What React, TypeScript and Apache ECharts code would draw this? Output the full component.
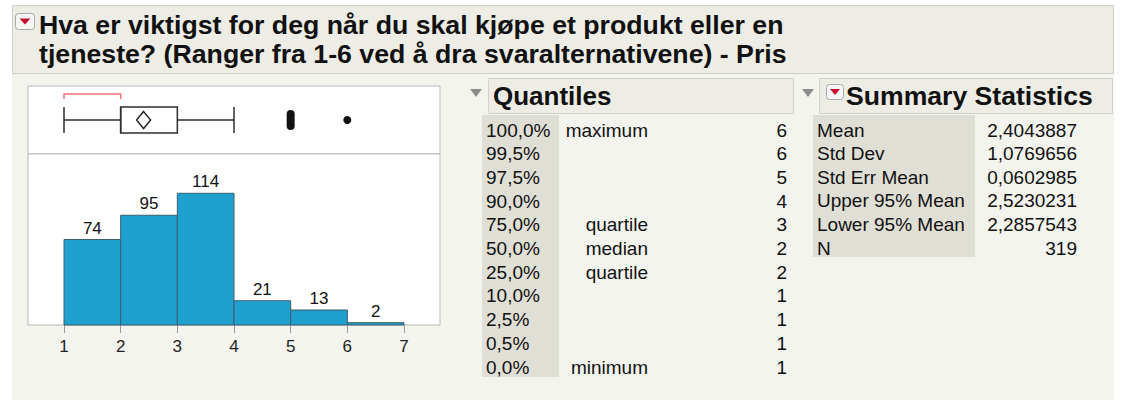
import React, { useEffect, useRef } from "react";
import * as echarts from "echarts";

// ---- data ----
const titleLines = [
  "Hva er viktigst for deg når du skal kjøpe et produkt eller en",
  "tjeneste? (Ranger fra 1-6 ved å dra svaralternativene) - Pris",
];
const binStarts = [1, 2, 3, 4, 5, 6];
const binCounts = [74, 95, 114, 21, 13, 2];
const axisTicks = [1, 2, 3, 4, 5, 6, 7];
const boxStats = [1, 2, 2, 3, 4]; // min(whisker), Q1, median, Q3, max(whisker)
const shortestHalf = [1, 2];
const meanValue = 2.4043887;
const outlierValues = [5, 6];

const quantileLevels = ["100,0%", "99,5%", "97,5%", "90,0%", "75,0%", "50,0%", "25,0%", "10,0%", "2,5%", "0,5%", "0,0%"];
const quantileNames = ["maximum", "", "", "", "quartile", "median", "quartile", "", "", "", "minimum"];
const quantileValues = ["6", "6", "5", "4", "3", "2", "2", "1", "1", "1", "1"];

const summaryLabels = ["Mean", "Std Dev", "Std Err Mean", "Upper 95% Mean", "Lower 95% Mean", "N"];
const summaryValues = ["2,4043887", "1,0769656", "0,0602985", "2,5230231", "2,2857543", "319"];

const FONT = "'Liberation Sans', Arial, Helvetica, sans-serif";

export default function App() {
  const ref = useRef<HTMLDivElement>(null);

  useEffect(() => {
    document.body.style.margin = "0";
    const chart = echarts.init(ref.current!, null, { renderer: "svg" });

    const pxPerUnit = (404 - 64) / 6;
    const XMIN = 1 - 36 / pxPerUnit;
    const XMAX = 7 + 36 / pxPerUnit;

    const graphics: any[] = [];
    // panel backgrounds
    graphics.push({ type: "rect", z: -10, shape: { x: 12, y: 5, width: 1102, height: 395 }, style: { fill: "#f4f4ef" } });
    graphics.push({ type: "rect", z: -9, shape: { x: 12.5, y: 5.5, width: 1101, height: 68 }, style: { fill: "#edece5", stroke: "#cfcfc7", lineWidth: 1 } });
    // title icon
    graphics.push({ type: "rect", z: 5, shape: { x: 15.5, y: 13.5, width: 19, height: 16, r: 3 }, style: { fill: "#f6f6f4", stroke: "#a8a8a8", lineWidth: 1 } });
    graphics.push({ type: "polygon", z: 6, shape: { points: [[19.5, 18.5], [30.5, 18.5], [25, 24.5]] }, style: { fill: "#c8102e" } });
    titleLines.forEach((t, i) => {
      graphics.push({
        type: "text", z: 5, x: 39, y: 25 + i * 29,
        style: { text: t, font: `bold 26.7px ${FONT}`, fill: "#111", textVerticalAlign: "middle" },
      });
    });

    // Quantiles header
    graphics.push({ type: "polygon", z: 5, shape: { points: [[470, 89], [482, 89], [476, 97]] }, style: { fill: "#8c8c8c" } });
    graphics.push({ type: "rect", z: -8, shape: { x: 488.5, y: 78.5, width: 305, height: 35 }, style: { fill: "#edece5", stroke: "#d2d2ca", lineWidth: 1 } });
    graphics.push({ type: "text", z: 5, x: 493, y: 96, style: { text: "Quantiles", font: `bold 26px ${FONT}`, fill: "#111", textVerticalAlign: "middle" } });
    graphics.push({ type: "rect", z: -8, shape: { x: 482, y: 115, width: 77, height: 262 }, style: { fill: "#e0dfd5" } });
    quantileLevels.forEach((lv, i) => {
      const y = 130 + i * 23.7;
      graphics.push({ type: "text", z: 5, x: 486, y, style: { text: lv, font: `19px ${FONT}`, fill: "#111", textVerticalAlign: "middle" } });
      if (quantileNames[i]) {
        graphics.push({ type: "text", z: 5, x: 648, y, style: { text: quantileNames[i], font: `19px ${FONT}`, fill: "#111", textAlign: "right", textVerticalAlign: "middle" } });
      }
      graphics.push({ type: "text", z: 5, x: 787, y, style: { text: quantileValues[i], font: `19px ${FONT}`, fill: "#111", textAlign: "right", textVerticalAlign: "middle" } });
    });

    // Summary statistics header
    graphics.push({ type: "polygon", z: 5, shape: { points: [[802, 89], [814, 89], [808, 97]] }, style: { fill: "#8c8c8c" } });
    graphics.push({ type: "rect", z: -8, shape: { x: 819.5, y: 78.5, width: 293, height: 35 }, style: { fill: "#edece5", stroke: "#d2d2ca", lineWidth: 1 } });
    graphics.push({ type: "rect", z: 5, shape: { x: 826.5, y: 84.5, width: 17, height: 15, r: 3 }, style: { fill: "#f6f6f4", stroke: "#a8a8a8", lineWidth: 1 } });
    graphics.push({ type: "polygon", z: 6, shape: { points: [[830, 89], [840, 89], [835, 95]] }, style: { fill: "#c8102e" } });
    graphics.push({ type: "text", z: 5, x: 846, y: 96, style: { text: "Summary Statistics", font: `bold 26.6px ${FONT}`, fill: "#111", textVerticalAlign: "middle" } });
    graphics.push({ type: "rect", z: -8, shape: { x: 813, y: 115, width: 162, height: 142 }, style: { fill: "#e0dfd5" } });
    summaryLabels.forEach((lb, i) => {
      const y = 130 + i * 23.6;
      graphics.push({ type: "text", z: 5, x: 817, y, style: { text: lb, font: `19px ${FONT}`, fill: "#111", textVerticalAlign: "middle" } });
      graphics.push({ type: "text", z: 5, x: 1077, y, style: { text: summaryValues[i], font: `19px ${FONT}`, fill: "#111", textAlign: "right", textVerticalAlign: "middle" } });
    });

    const histData = binStarts.map((s, i) => [s, s + 1, binCounts[i]]);

    const option: any = {
      animation: false,
      graphic: { elements: graphics },
      grid: [
        { left: 28, top: 86, width: 412, height: 68, show: true, backgroundColor: "#ffffff", borderColor: "#b8b8b8", borderWidth: 1, z: 0 },
        { left: 28, top: 154, width: 412, height: 171, show: true, backgroundColor: "#ffffff", borderColor: "#b8b8b8", borderWidth: 1, z: 0 },
      ],
      xAxis: [
        { gridIndex: 0, type: "value", min: XMIN, max: XMAX, show: false },
        {
          gridIndex: 1, type: "value", min: XMIN, max: XMAX,
          axisLine: { show: false },
          splitLine: { show: false },
          axisTick: { show: true, customValues: axisTicks, length: 8, lineStyle: { color: "#9a9a9a", width: 1 } },
          axisLabel: { customValues: axisTicks, fontSize: 17, fontFamily: FONT, color: "#222", margin: 13 },
        },
      ],
      yAxis: [
        { gridIndex: 0, type: "value", min: 0, max: 1, show: false },
        { gridIndex: 1, type: "value", min: 0, max: 148, show: false },
      ],
      series: [
        {
          type: "custom",
          xAxisIndex: 1, yAxisIndex: 1,
          data: histData,
          renderItem: (params: any, api: any) => {
            const s = api.value(0), e = api.value(1), c = api.value(2);
            const p0 = api.coord([s, 0]);
            const p1 = api.coord([e, c]);
            return {
              type: "group",
              children: [
                {
                  type: "rect",
                  shape: { x: p0[0], y: p1[1], width: p1[0] - p0[0], height: p0[1] - p1[1] },
                  style: { fill: "#1ea1cf", stroke: "#3e5d6c", lineWidth: 1 },
                },
                {
                  type: "text",
                  x: (p0[0] + p1[0]) / 2, y: p1[1] - 3,
                  style: { text: String(c), font: `17px ${FONT}`, fill: "#111", textAlign: "center", textVerticalAlign: "bottom" },
                },
              ],
            };
          },
        },
        {
          type: "custom",
          xAxisIndex: 0, yAxisIndex: 0,
          data: [boxStats],
          renderItem: (params: any, api: any) => {
            const cy = api.coord([0, 0.5])[1];
            const xs = [0, 1, 2, 3, 4].map((k) => api.coord([api.value(k), 0.5])[0]);
            const h = 13;
            const st = { stroke: "#2e2e2e", lineWidth: 1.5, fill: "none" };
            return {
              type: "group",
              children: [
                { type: "line", shape: { x1: xs[0], y1: cy, x2: xs[1], y2: cy }, style: st },
                { type: "line", shape: { x1: xs[3], y1: cy, x2: xs[4], y2: cy }, style: st },
                { type: "line", shape: { x1: xs[0], y1: cy - h, x2: xs[0], y2: cy + h }, style: st },
                { type: "line", shape: { x1: xs[4], y1: cy - h, x2: xs[4], y2: cy + h }, style: st },
                { type: "rect", shape: { x: xs[1], y: cy - h, width: xs[3] - xs[1], height: 2 * h }, style: { stroke: "#2e2e2e", lineWidth: 1.5, fill: "#ffffff" } },
                { type: "line", shape: { x1: xs[2], y1: cy - h, x2: xs[2], y2: cy + h }, style: st },
              ],
            };
          },
        },
        {
          type: "custom",
          xAxisIndex: 0, yAxisIndex: 0,
          data: [shortestHalf],
          renderItem: (params: any, api: any) => {
            const a = api.coord([api.value(0), 0.5]);
            const b = api.coord([api.value(1), 0.5]);
            const y = a[1] - 26;
            return {
              type: "polyline",
              shape: { points: [[a[0], y + 5], [a[0], y], [b[0], y], [b[0], y + 5]] },
              style: { stroke: "#f0707c", lineWidth: 1.5, fill: "none" },
            };
          },
        },
        {
          type: "scatter",
          xAxisIndex: 0, yAxisIndex: 0,
          data: [[meanValue, 0.5]],
          symbol: "diamond",
          symbolSize: [14, 17],
          itemStyle: { color: "#ffffff", borderColor: "#222", borderWidth: 1.5, opacity: 1 },
          z: 5,
        },
        {
          type: "scatter",
          xAxisIndex: 0, yAxisIndex: 0,
          data: outlierValues.map((v, i) =>
            i === 0
              ? { value: [v, 0.5], symbol: "path://M0,4 A4,4 0 0 1 8,4 L8,16 A4,4 0 0 1 0,16 Z", symbolSize: [8, 20] }
              : { value: [v, 0.5], symbol: "circle", symbolSize: 8 }
          ),
          itemStyle: { color: "#111", opacity: 1 },
          z: 5,
        },
      ],
    };

    chart.setOption(option);
    return () => chart.dispose();
  }, []);

  return (
    <div
      ref={ref}
      style={{ position: "fixed", left: 0, top: 0, width: 1122, height: 402, background: "#ffffff" }}
    />
  );
}
